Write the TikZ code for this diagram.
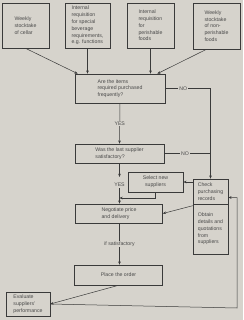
\documentclass[tikz,border=0pt]{standalone}
\usepackage{fontspec}
\setmainfont{Liberation Sans}
\usetikzlibrary{arrows.meta}
\definecolor{paper}{HTML}{D6D3CC}
\definecolor{ink}{HTML}{3A3A3A}
\definecolor{print}{HTML}{4A4A4A}
\tikzset{
  box/.style={draw=ink, line width=0.6pt, text=print, align=left, inner sep=0pt,
    font=\fontsize{5.2}{6.8}\selectfont},
  link/.style={draw=ink, line width=0.5pt},
  flow/.style={link, -{Stealth[length=3.2pt,width=2.6pt]}},
  lbl/.style={fill=paper, text=print, inner sep=1pt, font=\fontsize{5.2}{6}\selectfont}
}
\begin{document}
\begin{tikzpicture}[x=1pt,y=-1pt]
\fill[paper] (0,0) rectangle (243,320);
\useasboundingbox (0,0) rectangle (243,320);

% sources of demand
\node[box, minimum width=47pt, minimum height=45pt] (cellar) at (25.5,25.5) {Weekly\\stocktake\\of cellar};
\node[box, minimum width=45pt, minimum height=45pt] (bevreq) at (87.5,25.5) {Internal\\requisition\\for special\\beverage\\requirements,\\e.g. functions};
\node[box, minimum width=47pt, minimum height=45pt] (perreq) at (150.5,25.5) {Internal\\requisition\\for\\perishable\\foods};
\node[box, minimum width=47pt, minimum height=46pt] (stores) at (216.5,26) {Weekly\\stocktake\\of non-\\perishable\\foods};

% main column
\node[box, minimum width=90pt, minimum height=29pt] (freq) at (120,88.5) {Are the items\\required purchased\\frequently?};
\node[box, minimum width=89pt, minimum height=19pt] (last) at (119.5,153.5) {Was the last supplier\\satisfactory?};
\node[box, minimum width=55pt, minimum height=20pt, align=center] (sel) at (155.5,182) {Select new\\suppliers};
\node[box, minimum width=87pt, minimum height=19pt] (neg) at (119,213.5) {Negotiate price\\and delivery};
\node[box, minimum width=88pt, minimum height=20pt, align=center] (plce) at (118.5,275) {Place the order};
\node[box, minimum width=44pt, minimum height=24pt] (eval) at (28,304) {Evaluate\\suppliers'\\performance};

% purchasing records
\node[box, minimum width=35pt, minimum height=25pt] (check) at (210.5,191.5) {Check\\purchasing\\records};
\node[box, minimum width=35pt, minimum height=50pt] (obtain) at (210.5,229) {Obtain\\details and\\quotations\\from\\suppliers};

\draw[flow] (cellar.south) -- ([xshift=3pt]freq.north west);
\draw[flow] (bevreq.south) -- (bevreq.south |- freq.north);
\draw[flow] (perreq.south) -- (perreq.south |- freq.north);
\draw[flow] ([xshift=-10pt]stores.south) -- ([xshift=-8pt]freq.north east);

\draw[flow] (freq.east) -- node[lbl, pos=0.4] {NO} (freq.east -| check.north) -- (check.north);
\draw[link] (last.east) -- node[lbl, pos=0.45] {NO} (last.east -| check.north);
\draw[flow] (freq.south) -- node[lbl] {YES} (last.south |- last.north);

\node[lbl] (yes) at (119.5,185) {YES};
\draw[flow] (last.south) -- ([yshift=5pt]yes.north);
\draw[flow] (yes.south) -- (yes.south |- neg.north);
\coordinate (join) at (119.5,198);
\draw[flow] (check.west |- sel.east) -- (sel.east);
\draw[flow] (sel.south) |- (join);
\draw[flow] ([yshift=-2pt]obtain.north west) -- (neg.east);

\draw[flow] (yes.south |- neg.south) -- node[lbl] {if satisfactory} (yes.south |- plce.north);
\draw[flow] (plce.south) -- (eval.east);
\coordinate (corner) at (237,308);
\draw[flow] (eval.east) -- (corner) |- ([yshift=-6pt]check.east);
\end{tikzpicture}
\end{document}
